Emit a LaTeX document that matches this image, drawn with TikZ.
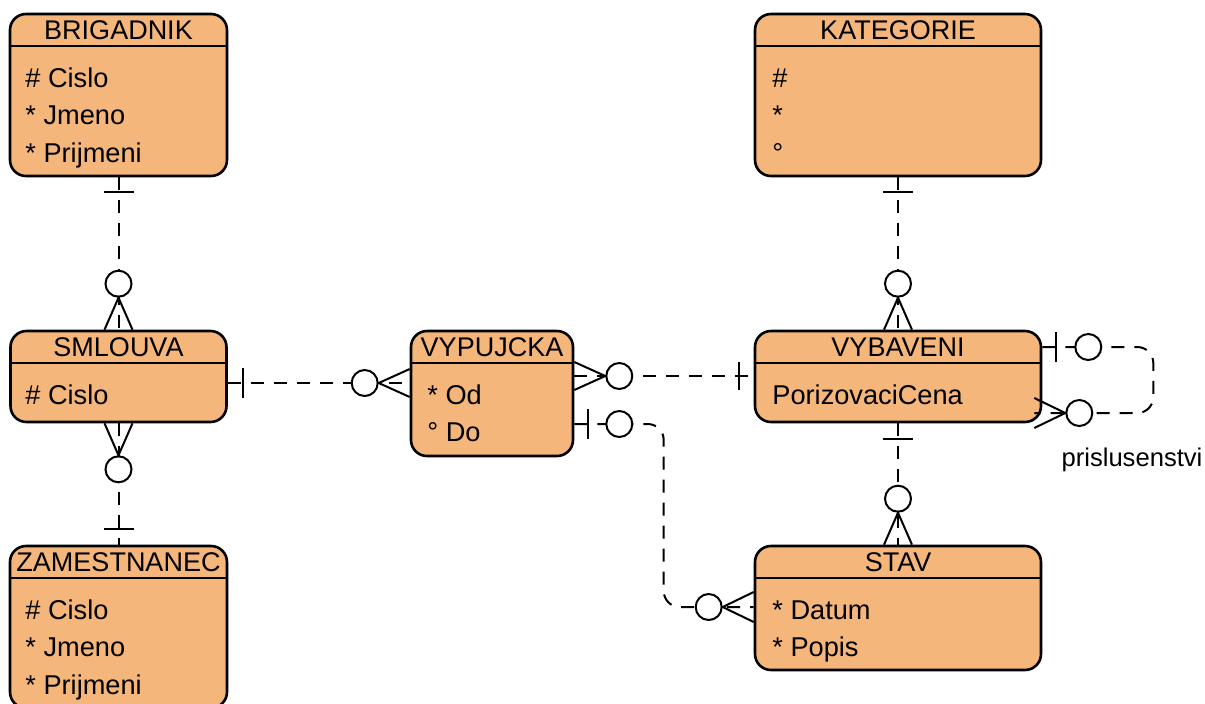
\documentclass[tikz,border=0pt]{standalone}
\usepackage{fontspec}
\setmainfont{Liberation Sans}
\usetikzlibrary{calc}
\definecolor{erorange}{HTML}{F4B67A}

\begin{document}
\begin{tikzpicture}[
    x=0.5pt, y=-0.5pt,
    entity/.style={draw, line width=1.3pt, rounded corners=8pt, fill=erorange, inner sep=0pt},
    etitle/.style={font=\fontsize{13.5}{15}\selectfont, inner sep=0pt, anchor=base},
    attr/.style={font=\fontsize{13.6}{15}\selectfont, inner sep=0pt, anchor=base west},
    hline/.style={line width=1pt},
    rel/.style={line width=1pt, dash pattern=on 6.5pt off 5pt},
    sym/.style={line width=1pt},
    zero/.style={circle, draw, fill=white, line width=1pt, minimum size=13pt, inner sep=0pt}
]
\useasboundingbox (0,0) rectangle (1205,703);

% entities
\node[entity, minimum width=108.5pt, minimum height=81pt] (brigadnik) at (118.5,95) {};
\draw[hline] (brigadnik.west |- 0,46) -- (brigadnik.east |- 0,46);
\node[etitle] (brigadnik-t) at (118.5,39) {BRIGADNIK};
\node[attr] (brigadnik-1) at (25,87) {\# Cislo};
\node[attr] (brigadnik-2) at (25,124) {* Jmeno};
\node[attr] (brigadnik-3) at (25,162) {* Prijmeni};

\node[entity, minimum width=108pt, minimum height=45.5pt] (smlouva) at (118.5,376.5) {};
\draw[hline] (smlouva.west |- 0,363) -- (smlouva.east |- 0,363);
\node[etitle] (smlouva-t) at (118.5,356) {SMLOUVA};
\node[attr] (smlouva-1) at (25,404) {\# Cislo};

\node[entity, minimum width=108.5pt, minimum height=81pt] (zamestnanec) at (118.5,627) {};
\draw[hline] (zamestnanec.west |- 0,578) -- (zamestnanec.east |- 0,578);
\node[etitle] (zamestnanec-t) at (118.5,571) {ZAMESTNANEC};
\node[attr] (zamestnanec-1) at (25,619) {\# Cislo};
\node[attr] (zamestnanec-2) at (25,656) {* Jmeno};
\node[attr] (zamestnanec-3) at (25,694) {* Prijmeni};

\node[entity, minimum width=81pt, minimum height=62.5pt] (vypujcka) at (492,393.5) {};
\draw[hline] (vypujcka.west |- 0,363) -- (vypujcka.east |- 0,363);
\node[etitle] (vypujcka-t) at (492,356) {VYPUJCKA};
\node[attr] (vypujcka-1) at (427,404) {* Od};
\node[attr] (vypujcka-2) at (427,441) {° Do};

\node[entity, minimum width=143pt, minimum height=81pt] (kategorie) at (898,95) {};
\draw[hline] (kategorie.west |- 0,46) -- (kategorie.east |- 0,46);
\node[etitle] (kategorie-t) at (898,39) {KATEGORIE};
\node[attr] (kategorie-1) at (772,87) {\#};
\node[attr] (kategorie-2) at (772,124) {*};
\node[attr] (kategorie-3) at (772,162) {°};

\node[entity, minimum width=143pt, minimum height=45.5pt] (vybaveni) at (898,376.5) {};
\draw[hline] (vybaveni.west |- 0,363) -- (vybaveni.east |- 0,363);
\node[etitle] (vybaveni-t) at (898,356) {VYBAVENI};
\node[attr] (vybaveni-1) at (772,404) {PorizovaciCena};

\node[entity, minimum width=143pt, minimum height=62pt] (stav) at (898,608) {};
\draw[hline] (stav.west |- 0,578) -- (stav.east |- 0,578);
\node[etitle] (stav-t) at (898,571) {STAV};
\node[attr] (stav-1) at (772,619) {* Datum};
\node[attr] (stav-2) at (772,656) {* Popis};

% connector ends
\coordinate (smlouva-e) at (smlouva.east |- 0,383);
\coordinate (vypujcka-w) at (vypujcka.west |- 0,383);
\coordinate (vypujcka-e1) at (vypujcka.east |- 0,376);
\coordinate (vybaveni-w) at (vybaveni.west |- 0,376);
\coordinate (vypujcka-e2) at (vypujcka.east |- 0,424);
\coordinate (stav-w) at (stav.west |- 0,607);
\coordinate (vybaveni-e1) at (vybaveni.east |- 0,347);
\coordinate (vybaveni-e2) at ($(vybaveni.east)+(-8,36.5)$);

% BRIGADNIK - SMLOUVA
\draw[rel] (brigadnik.south) -- (smlouva.north);
\draw[sym] ($(brigadnik.south)+(-15,15)$) -- ++(30,0);
\node[zero] (z-brig) at ($(smlouva.north)+(0,-46)$) {};
\draw[sym] ($(smlouva.north)+(-14,0)$) -- (z-brig.south) -- ($(smlouva.north)+(14,0)$);

% SMLOUVA - ZAMESTNANEC
\draw[rel] (smlouva.south) -- (zamestnanec.north);
\node[zero] (z-zam) at ($(smlouva.south)+(0,46)$) {};
\draw[sym] ($(smlouva.south)+(-14,0)$) -- (z-zam.north) -- ($(smlouva.south)+(14,0)$);
\draw[sym] ($(zamestnanec.north)+(-15,-16)$) -- ++(30,0);

% SMLOUVA - VYPUJCKA
\draw[rel] (smlouva-e) -- (vypujcka-w);
\draw[sym] ($(smlouva-e)+(15,-15)$) -- ++(0,30);
\node[zero] (z-sml) at ($(vypujcka-w)+(-45,0)$) {};
\draw[sym] ($(vypujcka-w)+(0,-14)$) -- (z-sml.east) -- ($(vypujcka-w)+(0,14)$);

% VYPUJCKA - VYBAVENI
\draw[rel] (vypujcka-e1) -- (vybaveni-w);
\node[zero] (z-vyp) at ($(vypujcka-e1)+(45,0)$) {};
\draw[sym] ($(vypujcka-e1)+(0,-14)$) -- (z-vyp.west) -- ($(vypujcka-e1)+(0,14)$);
\draw[sym] ($(vybaveni-w)+(-15,-14)$) -- ++(0,28);

% VYPUJCKA - STAV
\draw[rel, rounded corners=8pt] (vypujcka-e2) -| ($(stav-w)+(-90,0)$) -- (stav-w);
\draw[sym] ($(vypujcka-e2)+(14,-15)$) -- ++(0,30);
\node[zero] (z-vyp2) at ($(vypujcka-e2)+(45,0)$) {};
\node[zero] (z-stav) at ($(stav-w)+(-45,0)$) {};
\draw[sym] ($(stav-w)+(0,-15)$) -- (z-stav.east) -- ($(stav-w)+(0,15)$);

% KATEGORIE - VYBAVENI
\draw[rel] (kategorie.south) -- (vybaveni.north);
\draw[sym] ($(kategorie.south)+(-15,15)$) -- ++(30,0);
\node[zero] (z-kat) at ($(vybaveni.north)+(0,-46)$) {};
\draw[sym] ($(vybaveni.north)+(-14,0)$) -- (z-kat.south) -- ($(vybaveni.north)+(14,0)$);

% VYBAVENI - STAV
\draw[rel] (vybaveni.south) -- (stav.north);
\draw[sym] ($(vybaveni.south)+(-15,16)$) -- ++(30,0);
\node[zero] (z-vyb) at ($(stav.north)+(0,-46)$) {};
\draw[sym] ($(stav.north)+(-14,0)$) -- (z-vyb.south) -- ($(stav.north)+(14,0)$);

% VYBAVENI - VYBAVENI (prislusenstvi)
\draw[rel, rounded corners=8pt] (vybaveni-e1) -- ++(111,0) |- (vybaveni-e2);
\draw[sym] ($(vybaveni-e1)+(14,-15)$) -- ++(0,30);
\node[zero] (z-self1) at ($(vybaveni-e1)+(46,0)$) {};
\node[zero] (z-self2) at ($(vybaveni-e2)+(45,0)$) {};
\draw[sym] ($(vybaveni-e2)+(0,-15)$) -- (z-self2.west) -- ($(vybaveni-e2)+(0,15)$);
\node[font=\fontsize{12.8}{15}\selectfont, inner sep=0pt] (prislusenstvi) at (1132,460) {prislusenstvi};
\end{tikzpicture}
\end{document}
